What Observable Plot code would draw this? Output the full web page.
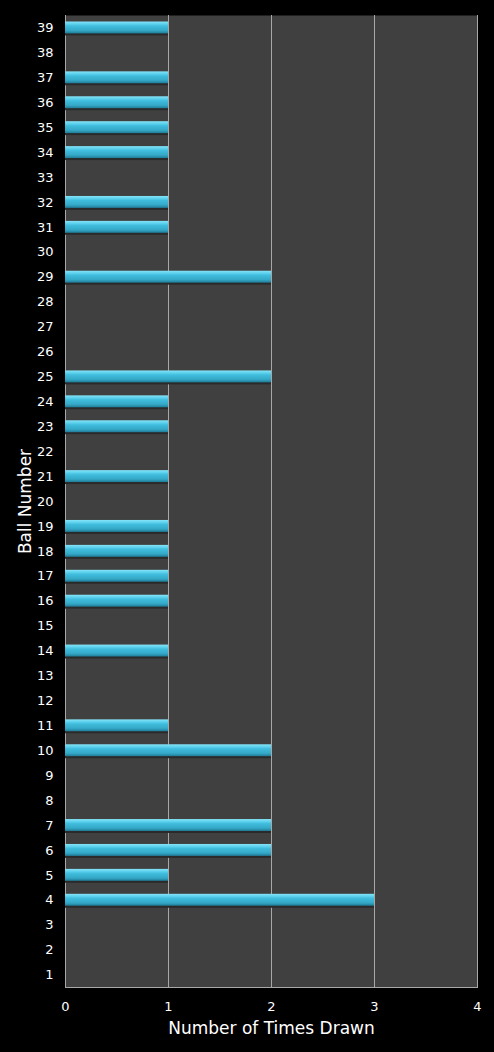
<!DOCTYPE html>
<html>
<head>
<meta charset="utf-8">
<script src="https://cdn.jsdelivr.net/npm/d3@7"></script>
<script src="https://cdn.jsdelivr.net/npm/@observablehq/plot@0.6"></script>
<style>
  html, body { margin: 0; padding: 0; background: #000; }
  #chart { width: 494px; height: 1052px; }
</style>
</head>
<body>
<div id="chart"></div>
<script>
const balls = [1,2,3,4,5,6,7,8,9,10,11,12,13,14,15,16,17,18,19,20,21,22,23,24,25,26,27,28,29,30,31,32,33,34,35,36,37,38,39];
const counts = [0,0,0,3,1,2,2,0,0,2,1,0,0,1,0,1,1,1,1,0,1,0,1,1,2,0,0,0,2,0,1,1,0,1,1,1,1,0,1];
const xTicks = [0,1,2,3,4];
const xLabel = "Number of Times Drawn";
const yLabel = "Ball Number";

const data = balls.map((b, i) => ({ball: b, count: counts[i]}));
const font = "'DejaVu Sans', Verdana, sans-serif";

const chart = Plot.plot({
  width: 494,
  height: 1052,
  marginLeft: 65,
  marginRight: 17,
  marginTop: 15,
  marginBottom: 65,
  style: {background: "#000", color: "#fff", fontFamily: font, fontSize: "12px"},
  x: {domain: [0, 4], ticks: xTicks, tickFormat: "d", tickSize: 0, label: null},
  y: {domain: balls.slice().reverse(), tickSize: 0, label: null, padding: 0},
  marks: [
    Plot.frame({fill: "#404040", stroke: null}),
    Plot.gridX(xTicks.filter(d => d > 0), {stroke: "#a8a8a8", strokeOpacity: 1, strokeWidth: 1}),
    Plot.frame({anchor: "left", stroke: "#a8a8a8"}),
    Plot.frame({anchor: "bottom", stroke: "#a8a8a8"}),
    Plot.barX(data.filter(d => d.count > 0), {x: "count", y: "ball", fill: "#2a2a2a", insetTop: 7, insetBottom: 4.5}),
    Plot.barX(data.filter(d => d.count > 0), {x: "count", y: "ball", fill: "url(#barGrad)", insetTop: 6.5, insetBottom: 6.5}),
    Plot.axisX({ticks: xTicks, tickFormat: "d", tickSize: 0, tickPadding: 14, label: null, fontSize: 13}),
    Plot.axisY({tickSize: 0, tickPadding: 12, label: null, fontSize: 13}),
    Plot.text([xLabel], {frameAnchor: "bottom", dy: 34, fontSize: 17, fill: "#fff", lineAnchor: "top", textAnchor: "middle"}),
    Plot.text([yLabel], {frameAnchor: "left", dx: -40, rotate: -90, fontSize: 17, fill: "#fff", textAnchor: "middle"})
  ]
});

const svg = d3.select(chart);
const defs = svg.insert("defs", ":first-child");
const g = defs.append("linearGradient").attr("id", "barGrad")
  .attr("x1", 0).attr("y1", 0).attr("x2", 0).attr("y2", 1);
[[0, "#86e4f7"], [0.2, "#5fd2ee"], [0.38, "#40bddd"], [0.75, "#35a8c7"], [1, "#1e7c97"]]
  .forEach(([o, c]) => g.append("stop").attr("offset", o).attr("stop-color", c));
svg.selectAll("text").style("font-family", font);

document.getElementById("chart").appendChild(chart);
</script>
</body>
</html>
